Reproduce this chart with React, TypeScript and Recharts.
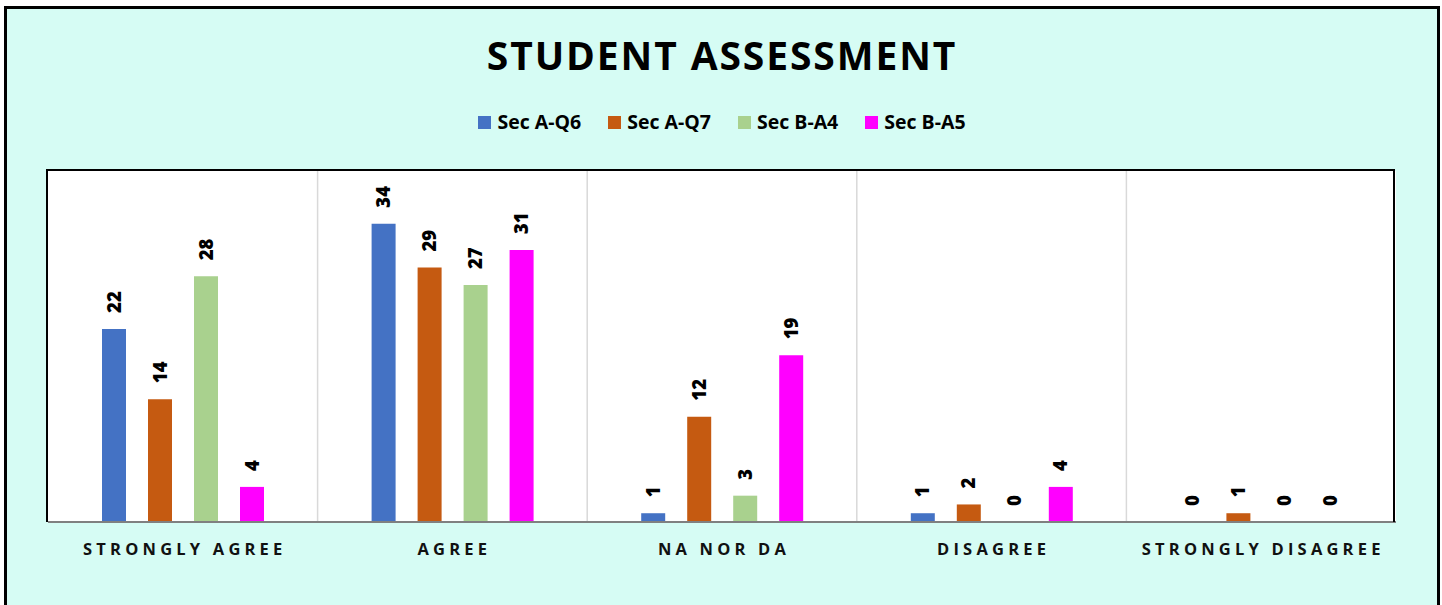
import React from 'react';
import {
  BarChart,
  Bar,
  XAxis,
  YAxis,
  CartesianGrid,
  Legend,
  LabelList,
} from 'recharts';

const categories = ['STRONGLY AGREE', 'AGREE', 'NA NOR DA', 'DISAGREE', 'STRONGLY DISAGREE'];
const secAQ6 = [22, 34, 1, 1, 0];
const secAQ7 = [14, 29, 12, 2, 1];
const secBA4 = [28, 27, 3, 0, 0];
const secBA5 = [4, 31, 19, 4, 0];

const seriesNames = ['Sec A-Q6', 'Sec A-Q7', 'Sec B-A4', 'Sec B-A5'];
const seriesColors = ['#4472C4', '#C55A11', '#A9D18E', '#FF00FF'];

const data = categories.map((c, i) => ({
  name: c,
  q6: secAQ6[i],
  q7: secAQ7[i],
  a4: secBA4[i],
  a5: secBA5[i],
}));

const keys = ['q6', 'q7', 'a4', 'a5'];

const FONT = '"Open Sans", sans-serif';

const W = 1430;
const H = 620;
const LEGEND_H = 20;
const PLOT_TOP = 162;
const M = { top: PLOT_TOP - LEGEND_H, right: 41, bottom: 67, left: 41 };

function ValueLabel(props: any) {
  const { x, y, width, value } = props;
  const cx = x + width / 2;
  const ay = y - 16;
  return (
    <text
      x={cx}
      y={ay}
      dy={6.6}
      transform={`rotate(-90, ${cx}, ${ay})`}
      textAnchor="start"
      fontFamily={FONT}
      fontWeight={800}
      fontSize={18.5}
      fill="#000"
    >
      {value}
    </text>
  );
}

function CategoryTick(props: any) {
  const { x, y, payload } = props;
  return (
    <text
      x={x + 2}
      y={y}
      dy={33}
      textAnchor="middle"
      fontFamily={FONT}
      fontWeight={700}
      fontSize={16.5}
      letterSpacing={4.2}
      fill="#111"
    >
      {payload.value}
    </text>
  );
}

function LegendRow() {
  return (
    <div
      style={{
        display: 'flex',
        justifyContent: 'center',
        alignItems: 'center',
        gap: 27,
        height: LEGEND_H,
        fontFamily: FONT,
        fontWeight: 700,
        fontSize: 19.5,
        lineHeight: LEGEND_H + 'px',
        color: '#000',
      }}
    >
      {seriesNames.map((n, i) => (
        <div key={n} style={{ display: 'flex', alignItems: 'center', gap: 6 }}>
          <span style={{ width: 13, height: 13, background: seriesColors[i], display: 'inline-block' }} />
          <span>{n}</span>
        </div>
      ))}
    </div>
  );
}

export default function App() {
  return (
    <div
      style={{
        position: 'absolute',
        left: 4,
        top: 6,
        width: W,
        height: H,
        border: '3px solid #000',
        background: '#d6fcf4',
        overflow: 'hidden',
      }}
    >
      <div
        style={{
          position: 'absolute',
          top: 26,
          left: 0,
          width: W,
          textAlign: 'center',
          fontFamily: FONT,
          fontWeight: 700,
          fontSize: 39,
          lineHeight: '39px',
          letterSpacing: 1.9,
          color: '#000',
        }}
      >
        STUDENT ASSESSMENT
      </div>
      <BarChart width={W} height={H} data={data} margin={M} barSize={24} barGap={22}>
        <CartesianGrid
          fill="#fff"
          horizontal={false}
          stroke="#d9d9d9"
          strokeWidth={1.5}
          verticalCoordinatesGenerator={({ offset, width }: any) => {
            const w = offset.width ?? width - offset.left - offset.right;
            return [1, 2, 3, 4].map((i) => offset.left + (w * i) / categories.length);
          }}
        />
        <XAxis
          dataKey="name"
          height={40}
          tickLine={false}
          tickSize={0}
          tickMargin={0}
          axisLine={{ stroke: '#808080', strokeWidth: 2 }}
          tick={<CategoryTick />}
          interval={0}
        />
        <YAxis hide domain={[0, 40]} />
        <Legend
          verticalAlign="top"
          height={LEGEND_H}
          content={<LegendRow />}
          wrapperStyle={{ position: 'absolute', top: 103, left: 0, width: W }}
        />
        {keys.map((k, i) => (
          <Bar
            key={k}
            dataKey={k}
            name={seriesNames[i]}
            fill={seriesColors[i]}
            minPointSize={0.01}
            isAnimationActive={false}
          >
            <LabelList dataKey={k} content={<ValueLabel />} />
          </Bar>
        ))}
      </BarChart>
      <div
        style={{
          position: 'absolute',
          left: M.left - 2,
          top: PLOT_TOP - 2,
          width: W - M.left - M.right + 1,
          height: H - PLOT_TOP - M.bottom - 40 + 2,
          borderLeft: '2.5px solid #000',
          borderTop: '2.5px solid #000',
          borderRight: '2.5px solid #000',
          boxSizing: 'border-box',
          pointerEvents: 'none',
        }}
      />
    </div>
  );
}
